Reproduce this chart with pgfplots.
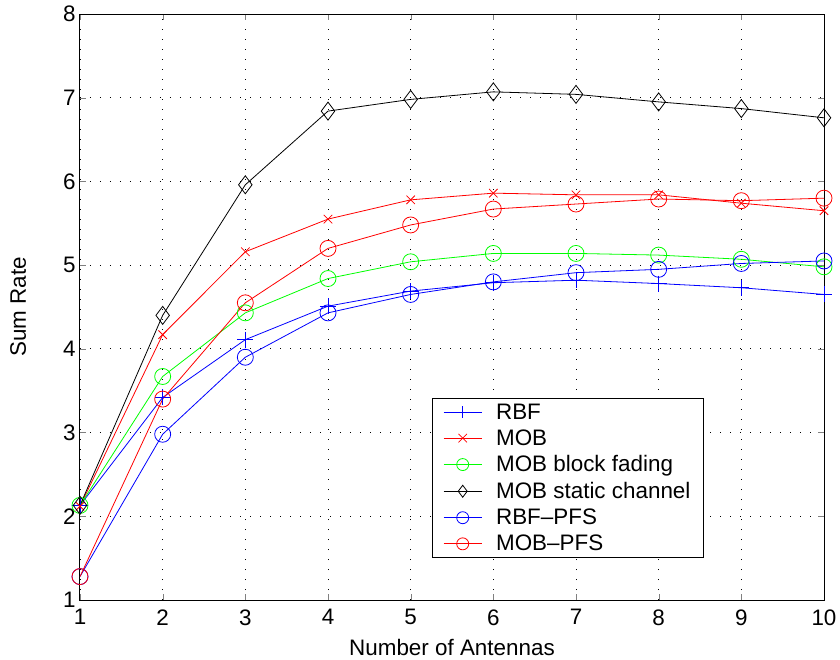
\documentclass[border=0pt]{standalone}
\usepackage{fontspec}
\setmainfont{Liberation Sans}
\usepackage{pgfplots}
\pgfplotsset{compat=1.18}
\definecolor{mgreen}{RGB}{0,255,0}
\begin{document}
\begin{tikzpicture}
\useasboundingbox (-80bp,-60bp) rectangle (760bp,600bp);
\begin{axis}[
  at={(0,0)}, anchor=south west,
  scale only axis,
  width=744bp, height=586bp,
  xmin=1, xmax=10, ymin=1, ymax=8,
  xtick={1,...,10}, ytick={1,...,8},
  tick align=inside, tick pos=both,
  major tick length=6bp,
  grid=major,
  grid style={black, line width=0.8bp, dash pattern=on 1bp off 9bp},
  axis line style={line width=1bp},
  /pgf/number format/assume math mode=true,
  ticklabel style={font=\fontsize{22.5}{26}\selectfont},
  xticklabel style={yshift=-6bp},
  yticklabel style={xshift=-1bp},
  label style={font=\fontsize{22.5}{26}\selectfont},
  xlabel={Number of Antennas},
  ylabel={Sum Rate},
  xlabel style={yshift=-7bp},
  ylabel style={yshift=30bp},
  every axis plot/.append style={line width=0.8bp, mark options={solid}},
  legend cell align=left,
  legend style={at={(0.473,0.072)}, anchor=south west, draw=black, line width=0.8bp,
    font=\fontsize{22.5}{26}\selectfont, row sep=5bp, inner xsep=11bp, inner ysep=3bp,
    column sep=12bp},
  legend image code/.code={\draw[mark repeat=2,mark phase=2, mark size=6bp] plot coordinates {(0bp,0bp)(19bp,0bp)(38bp,0bp)};},
]
\addplot[blue, mark=+, mark size=8bp] coordinates {(1,2.13)(2,3.42)(3,4.11)(4,4.51)(5,4.69)(6,4.79)(7,4.82)(8,4.78)(9,4.73)(10,4.65)};
\addlegendentry{RBF}
\addplot[red, mark=x, mark size=6bp] coordinates {(1,2.12)(2,4.17)(3,5.16)(4,5.55)(5,5.78)(6,5.86)(7,5.84)(8,5.84)(9,5.74)(10,5.65)};
\addlegendentry{MOB}
\addplot[mgreen, mark=o, mark size=8bp] coordinates {(1,2.13)(2,3.67)(3,4.43)(4,4.84)(5,5.04)(6,5.14)(7,5.14)(8,5.12)(9,5.07)(10,4.98)};
\addlegendentry{MOB block fading}
\addplot[black, mark=diamond, mark size=9bp] coordinates {(1,2.13)(2,4.40)(3,5.96)(4,6.84)(5,6.98)(6,7.07)(7,7.04)(8,6.95)(9,6.87)(10,6.76)};
\addlegendentry{MOB static channel}
\addplot[blue, mark=o, mark size=8bp] coordinates {(1,1.28)(2,2.98)(3,3.90)(4,4.43)(5,4.65)(6,4.80)(7,4.91)(8,4.95)(9,5.02)(10,5.05)};
\addlegendentry{RBF--PFS}
\addplot[red, mark=o, mark size=8bp] coordinates {(1,1.28)(2,3.40)(3,4.55)(4,5.20)(5,5.48)(6,5.67)(7,5.73)(8,5.79)(9,5.77)(10,5.80)};
\addlegendentry{MOB--PFS}
\end{axis}
\end{tikzpicture}
\end{document}
